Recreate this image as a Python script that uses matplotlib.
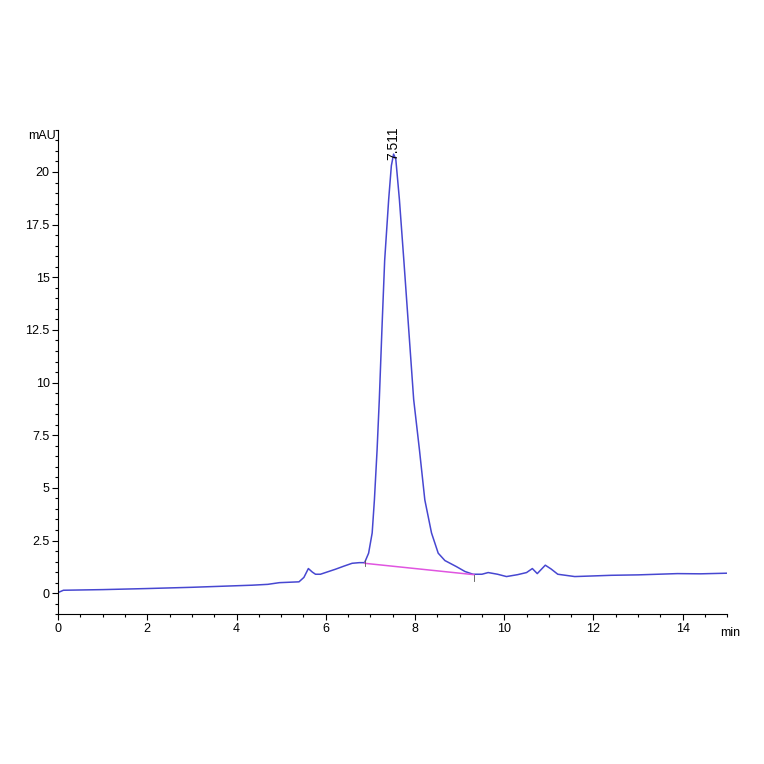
import numpy as np
import matplotlib.pyplot as plt
from matplotlib.ticker import MultipleLocator

plt.rcParams['font.family'] = ['Liberation Sans Narrow', 'Liberation Sans', 'DejaVu Sans']

# chromatogram trace (min, mAU)
time = [0.0, 0.12, 1.0, 1.98, 3.0, 4.35, 4.7, 4.96, 5.4, 5.51, 5.61, 5.7, 5.77, 5.88,
        6.05, 6.22, 6.4, 6.59, 6.75, 6.87, 6.96, 7.04, 7.09, 7.15, 7.20, 7.26, 7.32,
        7.41, 7.47, 7.52, 7.57, 7.65, 7.75, 7.86, 7.97, 8.10, 8.22, 8.37, 8.52,
        8.67, 8.93, 9.12, 9.30,
        9.5, 9.64, 9.85, 10.05, 10.3, 10.5, 10.63, 10.74, 10.92, 11.05, 11.2, 11.58,
        12.0, 12.4, 13.0, 13.88, 14.4, 15.0]
signal = [0.03, 0.14, 0.17, 0.22, 0.28, 0.38, 0.42, 0.5, 0.54, 0.75, 1.17, 1.0, 0.9, 0.9,
          1.02, 1.14, 1.28, 1.42, 1.45, 1.45, 1.9, 2.86, 4.43, 6.8, 9.2, 12.6, 15.8,
          18.7, 20.3, 20.85, 20.6, 18.7, 15.8, 12.5, 9.2, 6.8, 4.43, 2.86, 1.9,
          1.55, 1.26, 1.03, 0.9,
          0.9, 0.98, 0.9, 0.79, 0.88, 0.98, 1.17, 0.93, 1.33, 1.15, 0.9, 0.79,
          0.82, 0.85, 0.87, 0.93, 0.92, 0.95]

# integration baseline of the main peak
base_t = [6.87, 9.32]
base_y = [1.42, 0.88]
peak_t = 7.511
peak_y = 20.85

fig = plt.figure(figsize=(7.64, 7.64), dpi=100)
ax = fig.add_axes([0.076, 0.196, 0.876, 0.634])

ax.plot(time, signal, color='#4747d1', lw=1.1)
ax.plot(base_t, base_y, color='#e055e0', lw=1.1)
ax.plot([base_t[0], base_t[0]], [base_y[0] - 0.15, base_y[0] + 0.15], color='#555555', lw=0.6)
ax.plot([base_t[1], base_t[1]], [base_y[1] - 0.3, base_y[1]], color='#555555', lw=0.6)

ax.text(peak_t, peak_y - 0.3, '7.511', rotation=90, ha='center', va='bottom', fontsize=10)

ax.set_xlim(0, 15)
ax.set_ylim(-1, 22)
ax.xaxis.set_major_locator(MultipleLocator(2))
ax.xaxis.set_minor_locator(MultipleLocator(0.5))
ax.yaxis.set_major_locator(MultipleLocator(2.5))
ax.yaxis.set_minor_locator(MultipleLocator(0.5))
ax.yaxis.set_major_formatter(plt.FuncFormatter(lambda v, p: ('%g' % v)))
ax.tick_params(which='major', direction='out', length=4, width=0.8, labelsize=9, pad=2)
ax.tick_params(which='minor', direction='out', length=2, width=0.8)

for s in ['top', 'right']:
    ax.spines[s].set_visible(False)
ax.spines['left'].set_linewidth(0.8)
ax.spines['bottom'].set_linewidth(0.8)

fig.text(0.037, 0.822, 'mAU', fontsize=9, ha='left', va='center')
fig.text(0.943, 0.171, 'min', fontsize=9, ha='left', va='center')

fig.savefig('out.png', dpi=100)
